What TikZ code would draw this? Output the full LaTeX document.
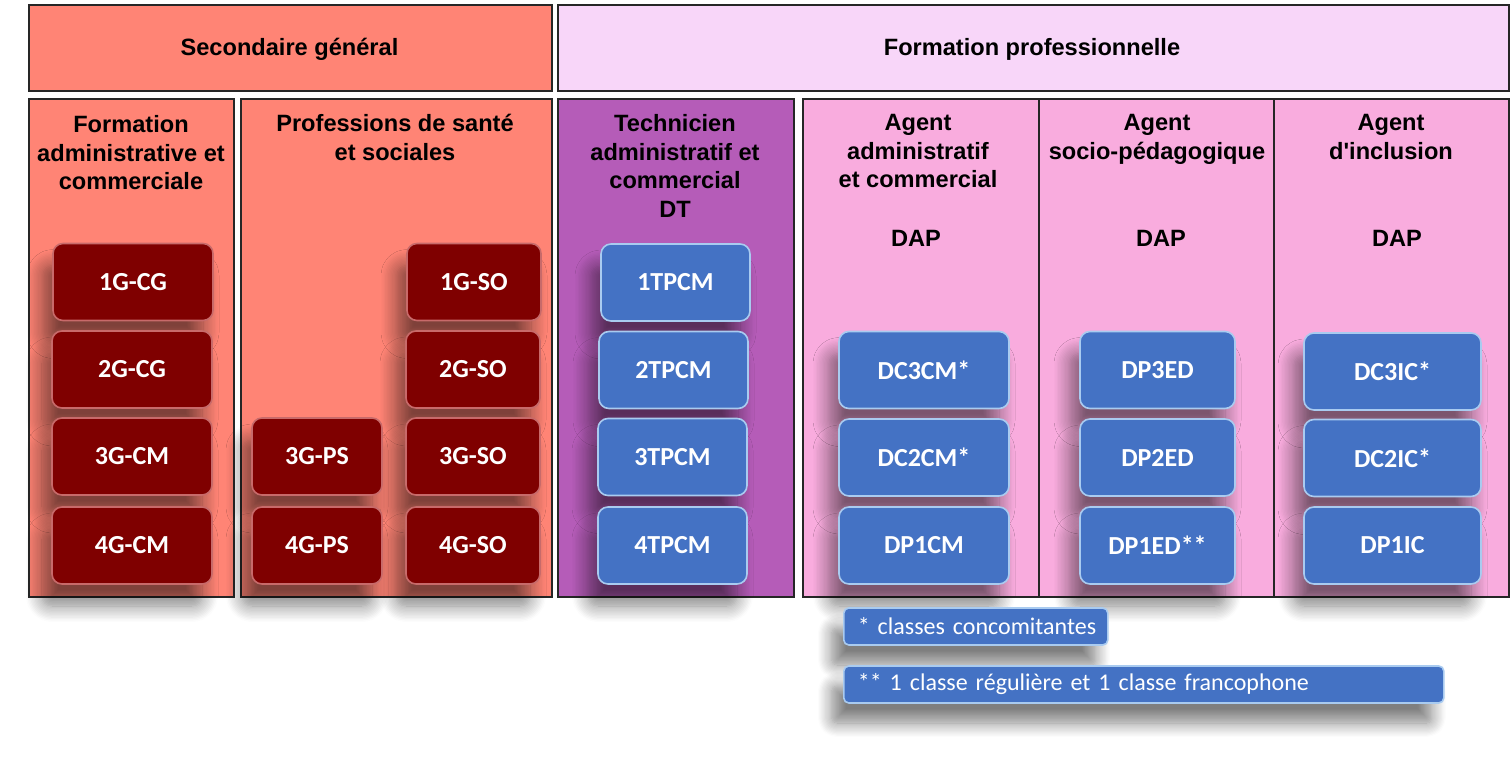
\documentclass[tikz,border=0pt]{standalone}
\usepackage{fontspec}
\setmainfont{Liberation Sans}
\newfontfamily\btnfont{Carlito}
\usetikzlibrary{shadows.blur}
\definecolor{salmonc}{HTML}{FF8475}
\definecolor{hdrpink}{HTML}{F8D6F9}
\definecolor{purplec}{HTML}{B55CB8}
\definecolor{pinkc}{HTML}{F9ACDE}
\definecolor{darkredc}{HTML}{7F0000}
\definecolor{rededge}{HTML}{C86A6A}
\definecolor{btnblue}{HTML}{4472C4}
\definecolor{blueedge}{HTML}{A9CBF0}
\tikzset{
  hdr/.style={draw=black!85, line width=0.8pt, anchor=north west, inner sep=0pt},
  colbox/.style={draw=black!85, line width=0.8pt, anchor=north west, inner sep=0pt,
    minimum height=249pt},
  ttl/.style={font=\bfseries\fontsize{11.8}{14.3}\selectfont, align=center, inner sep=0pt, anchor=north},
  dap/.style={font=\bfseries\fontsize{11.8}{14.3}\selectfont, inner sep=0pt},
  btn/.style={rounded corners=5pt, font=\btnfont\bfseries\fontsize{13}{15}\selectfont,
    text=white, minimum height=38.5pt, inner sep=0pt, line width=0.8pt,
    blur shadow={shadow xshift=-5pt, shadow yshift=-11pt, shadow blur radius=8pt,
      shadow blur steps=12, shadow opacity=50}},
  redbtn/.style={btn, fill=darkredc, draw=rededge},
  bluebtn/.style={btn, fill=btnblue, draw=blueedge},
  legendbox/.style={rounded corners=2.5pt, fill=btnblue, draw=blueedge, line width=0.8pt,
    font=\btnfont\fontsize{12}{14}\selectfont, text=white, align=left,
    minimum height=18.5pt, inner xsep=7pt, inner ysep=0pt, anchor=west,
    blur shadow={shadow xshift=-6pt, shadow yshift=-10pt, shadow blur radius=7pt,
      shadow blur steps=12, shadow opacity=50}},
}
\begin{document}
\begin{tikzpicture}[x=0.5pt, y=-0.5pt]
\useasboundingbox (0,0) rectangle (1512,760);
% headers
\node[hdr, fill=salmonc, minimum width=261.5pt, minimum height=43pt] (h1) at (28,4) {};
\node[font=\bfseries\fontsize{11.8}{14.3}\selectfont] (h1t) at (289.5,49) {Secondaire général};
\node[hdr, fill=hdrpink, minimum width=475.5pt, minimum height=43pt] (h2) at (557,4) {};
\node[font=\bfseries\fontsize{11.8}{14.3}\selectfont] (h2t) at (1032,49) {Formation professionnelle};
% columns
\node[colbox, fill=salmonc, minimum width=102.5pt] (c1) at (28,98) {};
\node[colbox, fill=salmonc, minimum width=155.5pt] (c2) at (240,98) {};
\node[colbox, fill=purplec, minimum width=118pt] (c3) at (557,98) {};
\node[colbox, fill=pinkc, minimum width=118pt] (c4) at (802,98) {};
\node[colbox, fill=pinkc, minimum width=117.5pt] (c5) at (1038,98) {};
\node[colbox, fill=pinkc, minimum width=117.5pt] (c6) at (1273,98) {};
% titles
\node[ttl] (t1) at (131,115) {Formation\\administrative et\\commerciale};
\node[ttl] (t2) at (395,114) {Professions de santé\\et sociales};
\node[ttl] (t3) at (675,114) {Technicien\\administratif et\\commercial\\DT};
\node[ttl] (t4) at (918,114) {Agent\\administratif\\et commercial};
\node[ttl] (t5) at (1157,114) {Agent\\socio-pédagogique};
\node[ttl] (t6) at (1391,114) {Agent\\d\textquotesingle inclusion};
\node[dap] (d4) at (916,238) {DAP};
\node[dap] (d5) at (1161,238) {DAP};
\node[dap] (d6) at (1397,238) {DAP};
% red buttons col1
\node[redbtn, minimum width=80pt] (b1gcg) at (133,282) {1G-CG};
\node[redbtn, minimum width=80pt] (b2gcg) at (132,369.5) {2G-CG};
\node[redbtn, minimum width=80pt] (b3gcm) at (132,456.5) {3G-CM};
\node[redbtn, minimum width=80pt] (b4gcm) at (132,545.5) {4G-CM};
% red buttons col2
\node[redbtn, minimum width=67pt] (b1gso) at (474,282) {1G-SO};
\node[redbtn, minimum width=67pt] (b2gso) at (473,369.5) {2G-SO};
\node[redbtn, minimum width=67pt] (b3gso) at (473,456.5) {3G-SO};
\node[redbtn, minimum width=67pt] (b4gso) at (473,545.5) {4G-SO};
\node[redbtn, minimum width=65pt] (b3gps) at (317,456.5) {3G-PS};
\node[redbtn, minimum width=65pt] (b4gps) at (317,545.5) {4G-PS};
% blue buttons col3
\node[bluebtn, minimum width=74.5pt] (b1t) at (675.5,282.5) {1TPCM};
\node[bluebtn, minimum width=74.5pt] (b2t) at (673.5,370) {2TPCM};
\node[bluebtn, minimum width=74.5pt] (b3t) at (672.5,457) {3TPCM};
\node[bluebtn, minimum width=74.5pt] (b4t) at (672.5,545.5) {4TPCM};
% col4
\node[bluebtn, minimum width=85pt] (bdc3cm) at (924,370) {DC3CM*};
\node[bluebtn, minimum width=85pt] (bdc2cm) at (924,457.5) {DC2CM*};
\node[bluebtn, minimum width=85pt] (bdp1cm) at (924,545.5) {DP1CM};
% col5
\node[bluebtn, minimum width=77.5pt] (bdp3ed) at (1157.5,370) {DP3ED};
\node[bluebtn, minimum width=77.5pt] (bdp2ed) at (1157.5,457.5) {DP2ED};
\node[bluebtn, minimum width=77.5pt] (bdp1ed) at (1157.5,545.5) {DP1ED**};
% col6
\node[bluebtn, minimum width=88.5pt] (bdc3ic) at (1392.5,371.5) {DC3IC*};
\node[bluebtn, minimum width=88.5pt] (bdc2ic) at (1392.5,458) {DC2IC*};
\node[bluebtn, minimum width=88.5pt] (bdp1ic) at (1392.5,545.5) {DP1IC};
% legends
\node[legendbox, text width=118pt] (leg1) at (843,626.5) {\mbox{* classes concomitantes}};
\node[legendbox, text width=286pt] (leg2) at (843,684.5) {\mbox{** 1 classe régulière et 1 classe francophone}};
\end{tikzpicture}
\end{document}
